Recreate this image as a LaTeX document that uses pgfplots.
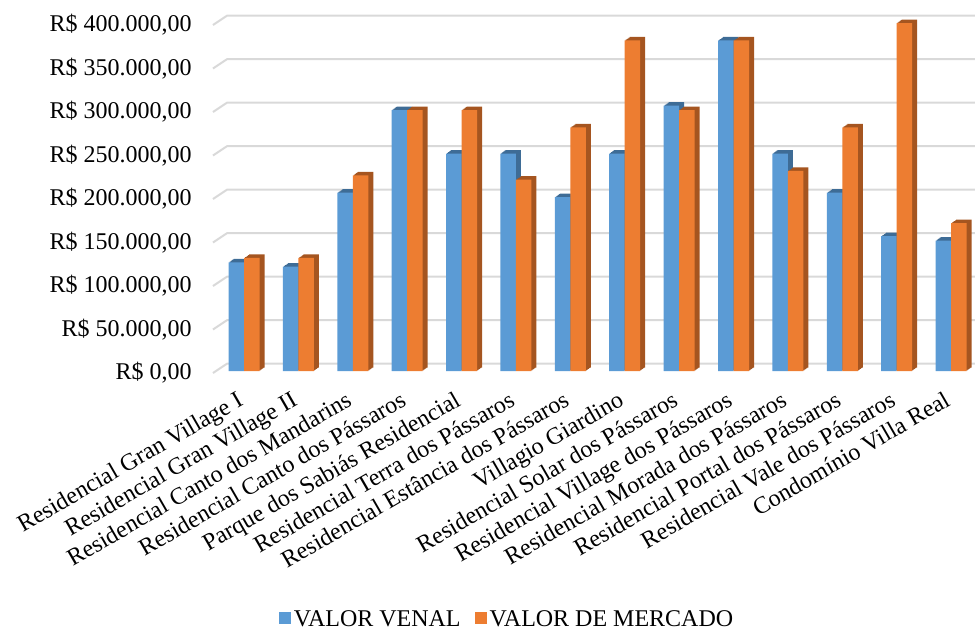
\documentclass[border=0pt]{standalone}
\usepackage{fontspec}
\setmainfont{Liberation Serif}
\usepackage{pgfplots}
\pgfplotsset{compat=1.18}
\usepackage{pgfplotstable}
\definecolor{cblue}{RGB}{91,155,213}
\definecolor{corange}{RGB}{237,125,49}
\definecolor{dblue}{RGB}{62,108,150}
\definecolor{dorange}{RGB}{165,85,32}
\definecolor{gridc}{RGB}{217,217,217}
\newcommand\fs{\fontsize{12}{14.4}\selectfont}

\pgfplotstableread{
x venal mercado
0 125000 130000
1 120000 130000
2 205000 225000
3 300000 300000
4 250000 300000
5 250000 220000
6 200000 280000
7 250000 380000
8 305000 300000
9 380000 380000
10 250000 230000
11 205000 280000
12 155000 400000
13 150000 170000
}\datatable

\begin{document}
\begin{tikzpicture}
\path[use as bounding box] (0,0) rectangle (487.5pt,314pt);
\begin{axis}[
  at={(106.5pt,127.5pt)}, anchor=south west,
  scale only axis, width=381pt, height=174pt,
  xmin=-0.57, xmax=13.44, ymin=0, ymax=400000,
  scaled y ticks=false,
  clip=false,
  axis line style={draw=none},
  major tick length=0pt,
  xtick={0,1,2,3,4,5,6,7,8,9,10,11,12,13},
  xticklabels={Residencial Gran Village I,Residencial Gran Village II,Residencial Canto dos Mandarins,Residencial Canto dos Pássaros,Parque dos Sabiás Residencial,Residencial Terra dos Pássaros,Residencial Estância dos Pássaros,Villagio Giardino,Residencial Solar dos Pássaros,Residencial Village dos Pássaros,Residencial Morada dos Pássaros,Residencial Portal dos Pássaros,Residencial Vale dos Pássaros,Condomínio Villa Real},
  xticklabel style={font=\fs, inner sep=0pt, anchor=north east, xshift=-4pt, yshift=-8.5pt, rotate=30},
  ytick={0,50000,100000,150000,200000,250000,300000,350000,400000},
  yticklabels={{R\$ 0,00},{R\$ 50.000,00},{R\$ 100.000,00},{R\$ 150.000,00},{R\$ 200.000,00},{R\$ 250.000,00},{R\$ 300.000,00},{R\$ 350.000,00},{R\$ 400.000,00}},
  yticklabel style={font=\fs, inner sep=0pt, anchor=east, xshift=-10.5pt},
  legend style={at={(0.3865,-0.709)}, anchor=center, draw=none, fill=none, font=\fs, legend columns=2, /tikz/every even column/.append style={column sep=5.5pt}, nodes={inner xsep=1.5pt}},
  legend image code/.code={\fill[#1] (0pt,-3pt) rectangle (6pt,3pt);},
]
\pgfplotsinvokeforeach{0,50000,100000,150000,200000,250000,300000,350000,400000}{
  \draw[gridc, line width=1pt] (axis cs:-0.57,#1) -- ++(7pt,4.65pt) -- ([yshift=4.65pt]axis cs:13.44,#1);
}
% blue side/top
\addplot[forget plot, ybar, bar width=7.75pt, bar shift=-3.375pt, fill=dblue, draw=none, yshift=1.35pt] table[x=x,y=venal]{\datatable};
\addplot[forget plot, ybar, bar width=7.75pt, bar shift=-2.875pt, fill=dblue, draw=none, yshift=1.7pt] table[x=x,y=venal]{\datatable};
\addplot[forget plot, ybar, bar width=7.75pt, bar shift=-2.375pt, fill=dblue, draw=none, yshift=2.05pt] table[x=x,y=venal]{\datatable};
\addplot[forget plot, ybar, bar width=7.75pt, bar shift=-1.875pt, fill=dblue, draw=none, yshift=2.4pt] table[x=x,y=venal]{\datatable};
\addplot[forget plot, ybar, bar width=7.75pt, bar shift=-1.375pt, fill=dblue, draw=none, yshift=2.75pt] table[x=x,y=venal]{\datatable};
\addplot[ybar, bar width=7.75pt, bar shift=-3.875pt, fill=cblue, draw=none, yshift=1pt] table[x=x,y=venal]{\datatable};
\addlegendentry{VALOR VENAL}
% orange side/top
\addplot[forget plot, ybar, bar width=7.75pt, bar shift=4.375pt, fill=dorange, draw=none, yshift=1.35pt] table[x=x,y=mercado]{\datatable};
\addplot[forget plot, ybar, bar width=7.75pt, bar shift=4.875pt, fill=dorange, draw=none, yshift=1.7pt] table[x=x,y=mercado]{\datatable};
\addplot[forget plot, ybar, bar width=7.75pt, bar shift=5.375pt, fill=dorange, draw=none, yshift=2.05pt] table[x=x,y=mercado]{\datatable};
\addplot[forget plot, ybar, bar width=7.75pt, bar shift=5.875pt, fill=dorange, draw=none, yshift=2.4pt] table[x=x,y=mercado]{\datatable};
\addplot[forget plot, ybar, bar width=7.75pt, bar shift=6.375pt, fill=dorange, draw=none, yshift=2.75pt] table[x=x,y=mercado]{\datatable};
\addplot[ybar, bar width=7.75pt, bar shift=3.875pt, fill=corange, draw=none, yshift=1pt] table[x=x,y=mercado]{\datatable};
\addlegendentry{VALOR DE MERCADO}
\end{axis}
\end{tikzpicture}
\end{document}
